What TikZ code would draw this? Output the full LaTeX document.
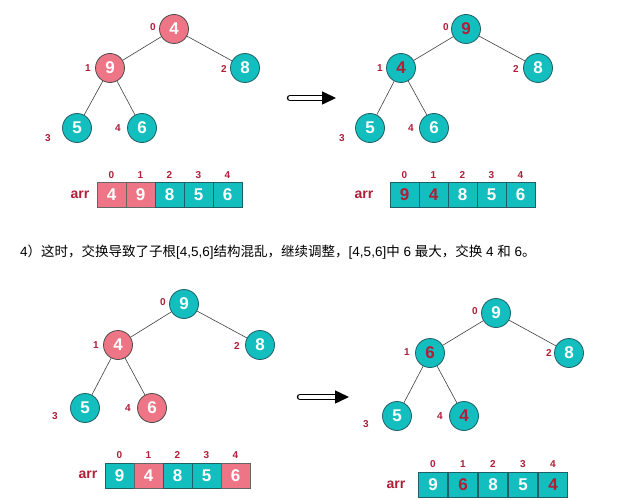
\documentclass[tikz,border=0pt]{standalone}
\usepackage{fontspec}
\setmainfont{Liberation Sans}
\newfontfamily\cjk{Noto Sans CJK SC}
\usetikzlibrary{arrows.meta}
\definecolor{pk}{HTML}{EE7585}
\definecolor{tl}{HTML}{13BEBE}
\definecolor{dr}{HTML}{B01E38}
\definecolor{bd}{HTML}{1F5F66}
\tikzset{
 t/.style={circle,draw=bd,line width=0.8pt,fill=tl,minimum size=29pt,inner sep=0pt,font=\bfseries\fontsize{17}{17}\selectfont,text=white},
 p/.style={t,fill=pk,draw=black!70},
 ix/.style={font=\bfseries\fontsize{10}{10}\selectfont,text=dr},
 ar/.style={font=\bfseries\fontsize{14}{14}\selectfont,text=dr},
 ct/.style={draw=bd,line width=0.8pt,fill=tl,minimum width=29pt,minimum height=25pt,inner sep=0pt,font=\bfseries\fontsize{17}{17}\selectfont,text=white},
 cp/.style={ct,fill=pk,draw=black!60},
 ed/.style={draw=black!75,line width=0.6pt},
 bigar/.style={double=white,double distance=3.5pt,line width=1.5pt,line cap=round,-{Triangle[length=14pt,width=13pt]}}
}
\begin{document}
\begin{tikzpicture}[x=1pt,y=-1pt]
\useasboundingbox[fill=white] (0,0) rectangle (626,500);
% panel 1
\node[p] (a0) at (174,29) {4};
\node[p] (a1) at (110,68) {9};
\node[t] (a2) at (245,68) {8};
\node[t] (a3) at (77,128) {5};
\node[t] (a4) at (142,128) {6};
\draw[ed] (a0)--(a1) (a0)--(a2) (a1)--(a3) (a1)--(a4);
\node[ix] (a0l) at (153,27) {0};
\node[ix] (a1l) at (88,68) {1};
\node[ix] (a2l) at (224,69) {2};
\node[ix] (a3l) at (48,138) {3};
\node[ix] (a4l) at (118,128) {4};
\node[ar] (aarr) at (80,195) {arr};
\foreach \v/\s [count=\i from 0] in {4/cp,9/cp,8/ct,5/ct,6/ct}{
 \node[\s] (ac\i) at (111.5+29*\i,194.5) {\v};
 \node[ix] (aci\i) at (111.5+29*\i,175) {\i};}
\coordinate (q1) at (290,98); \coordinate (q2) at (336,98);
\draw[bigar] (q1)--(q2);
% panel 2
\node[t] (b0) at (466,29) {\textcolor{dr}{9}};
\node[t] (b1) at (401,68) {\textcolor{dr}{4}};
\node[t] (b2) at (538,68) {8};
\node[t] (b3) at (370,128) {5};
\node[t] (b4) at (434,128) {6};
\draw[ed] (b0)--(b1) (b0)--(b2) (b1)--(b3) (b1)--(b4);
\node[ix] (b0l) at (446,27) {0};
\node[ix] (b1l) at (380,68) {1};
\node[ix] (b2l) at (516,69) {2};
\node[ix] (b3l) at (342,138) {3};
\node[ix] (b4l) at (411,128) {4};
\node[ar] (barr) at (364,195) {arr};
\foreach \v/\s [count=\i from 0] in {\textcolor{dr}{9}/ct,\textcolor{dr}{4}/ct,8/ct,5/ct,6/ct}{
 \node[\s] (bc\i) at (404.5+29*\i,194.5) {\v};
 \node[ix] (bci\i) at (404.5+29*\i,175) {\i};}
% text
\node[anchor=west,font=\fontsize{13.5}{13.5}\selectfont,inner sep=0pt] (txt) at (20,252) {4{\cjk ）}{\cjk 这时，交换导致了子根}[4,5,6]{\cjk 结构混乱，继续调整，}[4,5,6]{\cjk 中} 6 {\cjk 最大，交换} 4 {\cjk 和} 6{\cjk 。}};
% panel 3
\node[t] (c0) at (184,304) {9};
\node[p] (c1) at (118,345) {4};
\node[t] (c2) at (260,345) {8};
\node[t] (c3) at (85,408) {5};
\node[p] (c4) at (152,408) {6};
\draw[ed] (c0)--(c1) (c0)--(c2) (c1)--(c3) (c1)--(c4);
\node[ix] (c0l) at (163,302) {0};
\node[ix] (c1l) at (96,345) {1};
\node[ix] (c2l) at (237,346) {2};
\node[ix] (c3l) at (55,416) {3};
\node[ix] (c4l) at (128,408) {4};
\node[ar] (carr) at (88,475) {arr};
\foreach \v/\s [count=\i from 0] in {9/ct,4/cp,8/ct,5/ct,6/cp}{
 \node[\s] (cc\i) at (119.5+29*\i,475.5) {\v};
 \node[ix] (cci\i) at (119.5+29*\i,455) {\i};}
\coordinate (q3) at (300,397); \coordinate (q4) at (349,397);
\draw[bigar] (q3)--(q4);
% panel 4
\node[t] (d0) at (496,313) {9};
\node[t] (d1) at (430,353) {\textcolor{dr}{6}};
\node[t] (d2) at (569,353) {8};
\node[t] (d3) at (397,416) {5};
\node[t] (d4) at (464,416) {\textcolor{dr}{4}};
\draw[ed] (d0)--(d1) (d0)--(d2) (d1)--(d3) (d1)--(d4);
\node[ix] (d0l) at (475,311) {0};
\node[ix] (d1l) at (407,352) {1};
\node[ix] (d2l) at (549,353) {2};
\node[ix] (d3l) at (366,424) {3};
\node[ix] (d4l) at (440,416) {4};
\node[ar] (darr) at (396,485) {arr};
\foreach \v/\s [count=\i from 0] in {9/ct,\textcolor{dr}{6}/ct,8/ct,5/ct,\textcolor{dr}{4}/ct}{
 \node[\s] (dc\i) at (433+30*\i,484.5) {\v};
 \node[ix] (dci\i) at (433+30*\i,464) {\i};}
\end{tikzpicture}
\end{document}
